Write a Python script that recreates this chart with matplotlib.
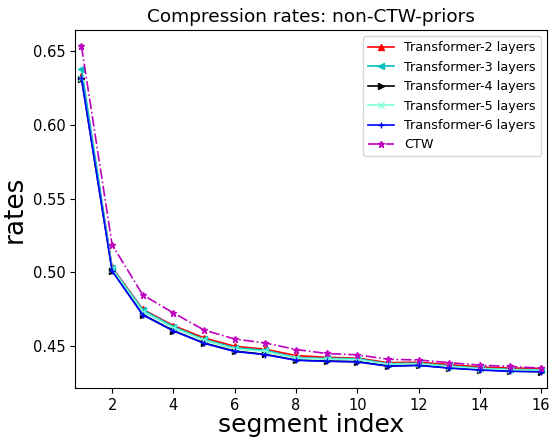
import numpy as np
import matplotlib
matplotlib.use('Agg')
import matplotlib.pyplot as plt

segments = np.arange(1, 17)

# values
t2_rates = [0.6330, 0.5035, 0.4750, 0.4640, 0.4557, 0.4500, 0.4480, 0.4437, 0.4425, 0.4420,
            0.4389, 0.4392, 0.4376, 0.4360, 0.4352, 0.4350]
t3_rates = [0.6380, 0.5030, 0.4746, 0.4633, 0.4546, 0.4489, 0.4473, 0.4422, 0.4418, 0.4416,
            0.4382, 0.4385, 0.4367, 0.4352, 0.4343, 0.4340]
t4_rates = [0.6314, 0.5013, 0.4715, 0.4606, 0.4522, 0.4467, 0.4445, 0.4407, 0.4400, 0.4396,
            0.4367, 0.4372, 0.4354, 0.4341, 0.4332, 0.4329]
t5_rates = [0.6320, 0.5025, 0.4735, 0.4625, 0.4540, 0.4482, 0.4465, 0.4418, 0.4413, 0.4410,
            0.4378, 0.4382, 0.4362, 0.4348, 0.4340, 0.4337]
t6_rates = [0.6316, 0.5010, 0.4712, 0.4604, 0.4520, 0.4465, 0.4443, 0.4405, 0.4398, 0.4394,
            0.4365, 0.4370, 0.4352, 0.4339, 0.4330, 0.4327]
ctw_rates = [0.6533, 0.5188, 0.4848, 0.4726, 0.4610, 0.4549, 0.4522, 0.4478, 0.4451, 0.4442,
             0.4412, 0.4407, 0.4389, 0.4372, 0.4363, 0.4352]

fig = plt.figure(figsize=(5.5, 4.4), dpi=100)
ax = fig.add_axes([0.137, 0.118, 0.858, 0.814])

lw = 1.2
ax.plot(segments, t2_rates, color='red', marker='^', markersize=4, lw=lw, label='Transformer-2 layers')
ax.plot(segments, t3_rates, color='c', marker='<', markersize=4, lw=lw, label='Transformer-3 layers')
ax.plot(segments, t4_rates, color='k', marker='>', markersize=4, lw=lw, label='Transformer-4 layers')
ax.plot(segments, t5_rates, color='aquamarine', marker='x', markersize=4, lw=lw, label='Transformer-5 layers')
ax.plot(segments, t6_rates, color='blue', marker='+', markersize=5, lw=lw, label='Transformer-6 layers')
ax.plot(segments, ctw_rates, color='m', marker='*', markersize=5, lw=lw, linestyle='-.', label='CTW')

ax.set_xlim(0.8, 16.2)
ax.set_xticks([2, 4, 6, 8, 10, 12, 14, 16])
ax.tick_params(labelsize=10.5)

ax.set_title('Compression rates: non-CTW-priors', fontsize=13.3)
ax.set_xlabel('segment index', fontsize=18, labelpad=0)
ax.set_ylabel('rates', fontsize=19)
ax.legend(fontsize=9.2, loc='upper right')

fig.savefig('out.png', dpi=100)
